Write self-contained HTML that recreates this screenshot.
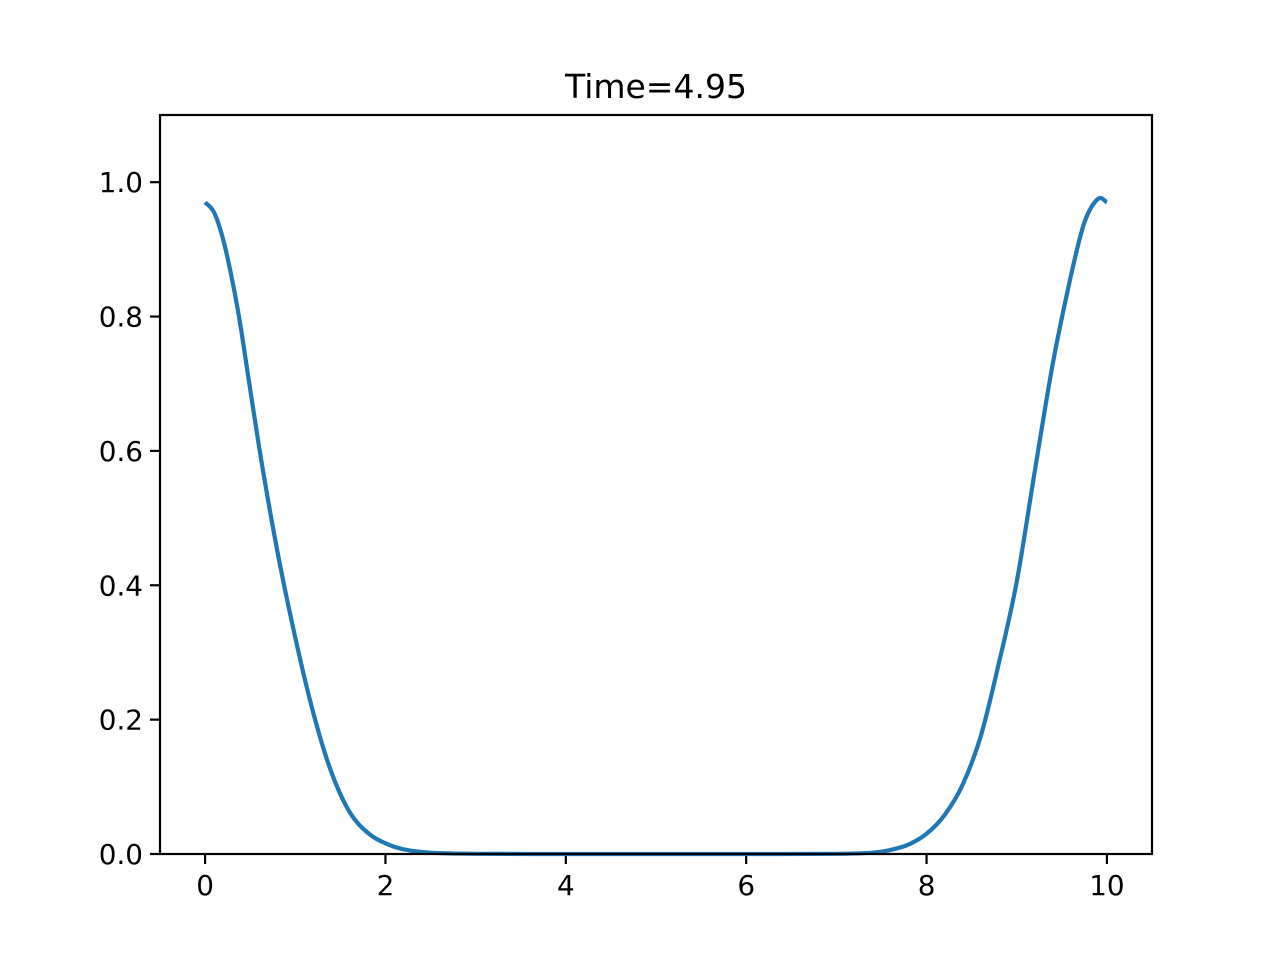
<!DOCTYPE html>
<html><head><meta charset="utf-8"><style>
body{margin:0;background:#fff;}
svg text{font-family:"DejaVu Sans","Liberation Sans",sans-serif;fill:#000;}
</style></head><body>
<svg id="chart" width="1280" height="960" viewBox="0 0 1280 960" xmlns="http://www.w3.org/2000/svg">
<rect width="1280" height="960" fill="#fff"/>
<text x="656" y="98" font-size="33" text-anchor="middle">Time=4.95</text>
<g id="ticks"></g>
<path id="curve" fill="none" stroke="#1f77b4" stroke-width="4.2" stroke-linejoin="round"/>
<rect x="160" y="115" width="992" height="739" fill="none" stroke="#000" stroke-width="2.2"/>
</svg>
<script>
const xs=[0,0.1,0.2,0.3,0.4,0.6,0.8,1.0,1.2,1.4,1.6,1.8,2.0,2.2,2.5,3,4,5,6,7,7.4,7.6,7.8,8.0,8.2,8.4,8.6,8.8,9.0,9.2,9.4,9.6,9.75,9.9,10];
const ys=[0.97,0.955,0.915,0.855,0.78,0.605,0.452,0.322,0.21,0.122,0.063,0.032,0.016,0.007,0.002,0.0003,0,0,0,0.0003,0.002,0.006,0.014,0.03,0.058,0.103,0.175,0.283,0.405,0.57,0.73,0.86,0.94,0.975,0.97];
const xTicks=[0,2,4,6,8,10];
const yTicks=[0,0.2,0.4,0.6,0.8,1.0];
const yTickLabels=["0.0","0.2","0.4","0.6","0.8","1.0"];
const X=v=>160+(v+0.5)/11*992;
const Y=v=>854-v/1.1*739;
const ns="http://www.w3.org/2000/svg";
const g=document.getElementById('ticks');
function el(t,a){const e=document.createElementNS(ns,t);for(const k in a)e.setAttribute(k,a[k]);g.appendChild(e);return e;}
xTicks.forEach(v=>{
  const l=el('line',{x1:X(v),x2:X(v),y1:854,y2:864,stroke:'#000','stroke-width':2.2});
  
  
  const t=el('text',{x:X(v),y:895,'font-size':27.8,'text-anchor':'middle'});
  t.textContent=v;
  
  
});
yTicks.forEach((v,i)=>{
  const l=el('line',{x1:150,x2:160,y1:Y(v),y2:Y(v),stroke:'#000','stroke-width':2.2});
  
  
  const t=el('text',{x:143,y:Y(v)+10,'font-size':27.8,'text-anchor':'end'});
  t.textContent=yTickLabels[i];
  
  
});
const P=xs.map((x,i)=>[X(x),Y(ys[i])]);
let d='M'+P[0][0].toFixed(1)+' '+P[0][1].toFixed(1);
for(let i=0;i<P.length-1;i++){
  const p0=P[Math.max(i-1,0)],p1=P[i],p2=P[i+1],p3=P[Math.min(i+2,P.length-1)];
  const c1=[p1[0]+(p2[0]-p0[0])/6,p1[1]+(p2[1]-p0[1])/6];
  const c2=[p2[0]-(p3[0]-p1[0])/6,p2[1]-(p3[1]-p1[1])/6];
  d+=` C${c1[0].toFixed(1)} ${Math.min(c1[1],854).toFixed(1)} ${c2[0].toFixed(1)} ${Math.min(c2[1],854).toFixed(1)} ${p2[0].toFixed(1)} ${p2[1].toFixed(1)}`;
}
document.getElementById('curve').setAttribute('d',d);
</script>
</body></html>
